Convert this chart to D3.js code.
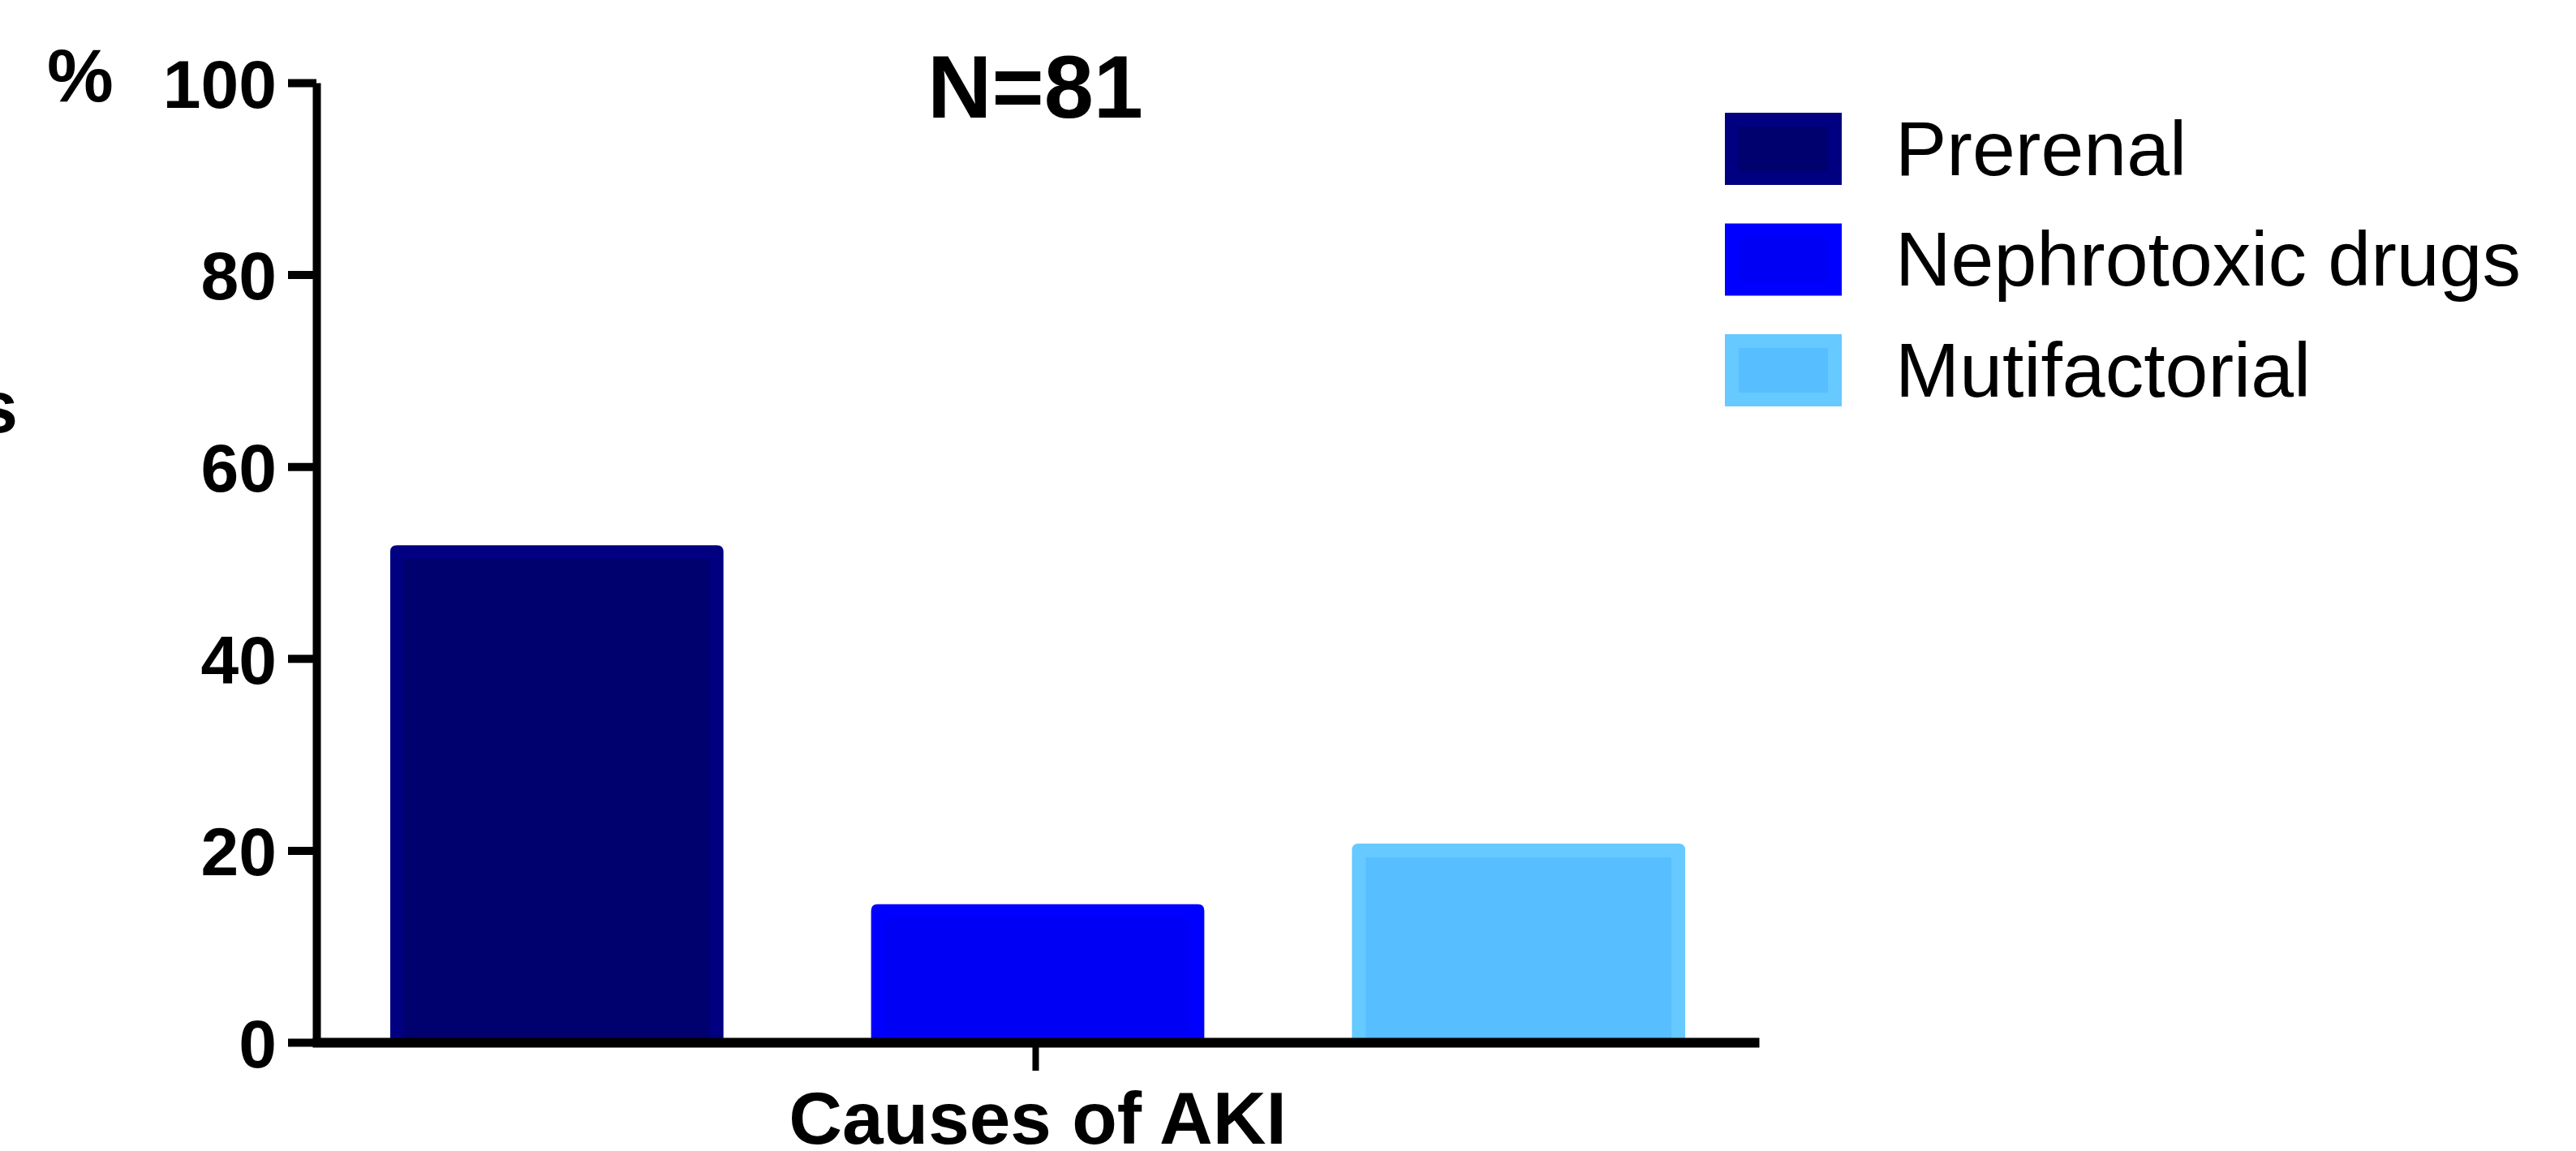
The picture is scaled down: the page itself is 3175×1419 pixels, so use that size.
<!DOCTYPE html>
<html>
<head>
<meta charset="utf-8">
<script src="https://cdn.jsdelivr.net/npm/d3@7"></script>
<style>
  body { margin: 0; background: #fff; }
  svg { display: block; }
</style>
</head>
<body>
<div id="chart"></div>
<script>
// data
const categories = ["Prerenal", "Nephrotoxic drugs", "Mutifactorial"];
const percents = [51.8, 14.4, 20.7];
const yTicks = [0, 20, 40, 60, 80, 100];
const groupLabel = "Causes of AKI";
const title = "N=81";

const fills = ["#00006e", "#0000f5", "#57bfff"];
const edges = ["#000080", "#0000ff", "#66c9ff"];

const W = 3175, H = 1419;
const font = "'Liberation Sans', Arial, sans-serif";

const svg = d3.select("#chart").append("svg")
  .attr("width", W)
  .attr("height", H)
  .style("font-family", font);

const x = d3.scaleBand()
  .domain(categories)
  .range([390, 2168])
  .paddingInner(0.307)
  .paddingOuter(0.1535);

const y = d3.scaleLinear()
  .domain([0, 100])
  .range([1285, 102]);

// bars: outer edge colour with an inset fill, slightly rounded on top
const inset = 17;
const bars = svg.append("g");
categories.forEach((c, i) => {
  const x0 = x(c), bw = x.bandwidth();
  const top = y(percents[i]), base = y(0);
  const r = 8;
  bars.append("path")
    .attr("d", `M${x0},${base}V${top + r}Q${x0},${top} ${x0 + r},${top}H${x0 + bw - r}Q${x0 + bw},${top} ${x0 + bw},${top + r}V${base}Z`)
    .attr("fill", edges[i]);
  bars.append("rect")
    .attr("x", x0 + inset)
    .attr("y", top + inset)
    .attr("width", bw - 2 * inset)
    .attr("height", Math.max(0, base - top - inset))
    .attr("fill", fills[i]);
});

// y axis
const yAxis = svg.append("g")
  .attr("transform", "translate(390,0)")
  .call(d3.axisLeft(y).tickValues(yTicks).tickSize(35).tickSizeOuter(0).tickPadding(14));
yAxis.select(".domain").attr("stroke", "#000").attr("stroke-width", 10);
yAxis.selectAll(".tick line").attr("stroke", "#000").attr("stroke-width", 10);
yAxis.selectAll(".tick text")
  .attr("font-family", font)
  .attr("font-size", 84)
  .attr("font-weight", "bold")
  .attr("fill", "#000")
  .attr("dy", "0.36em");

// x axis with a single centred tick
const xGroup = d3.scaleBand().domain([groupLabel]).range([385, 2168]);
const xAxis = svg.append("g")
  .attr("transform", `translate(0,${y(0)})`)
  .call(d3.axisBottom(xGroup).tickSize(35).tickSizeOuter(0).tickFormat(""));
xAxis.select(".domain").attr("stroke", "#000").attr("stroke-width", 12);
xAxis.selectAll(".tick line").attr("stroke", "#000").attr("stroke-width", 8);

svg.append("text")
  .attr("x", 1279)
  .attr("y", 1410)
  .attr("text-anchor", "middle")
  .attr("font-size", 91)
  .attr("font-weight", "bold")
  .text(groupLabel);

// title
svg.append("text")
  .attr("x", 1276)
  .attr("y", 145)
  .attr("text-anchor", "middle")
  .attr("font-size", 110)
  .attr("font-weight", "bold")
  .text(title);

// unit mark next to the top tick
svg.append("text")
  .attr("x", 58)
  .attr("y", 125)
  .attr("font-size", 92)
  .attr("font-weight", "bold")
  .text("%");

// clipped fragment of the original y title at the left edge
svg.append("clipPath").attr("id", "leftClip")
  .append("rect").attr("x", 0).attr("y", 0).attr("width", 20).attr("height", H);
svg.append("text")
  .attr("clip-path", "url(#leftClip)")
  .attr("x", -28)
  .attr("y", 533)
  .attr("font-size", 90)
  .attr("font-weight", "bold")
  .text("sc");

// legend
const legend = svg.append("g").attr("transform", "translate(2126,139)");
const sw = 144, sh = 89, step = 136.5;
categories.forEach((c, i) => {
  const g = legend.append("g").attr("transform", `translate(0,${i * step})`);
  g.append("rect").attr("width", sw).attr("height", sh).attr("fill", edges[i]);
  g.append("rect")
    .attr("x", inset).attr("y", inset)
    .attr("width", sw - 2 * inset).attr("height", sh - 2 * inset)
    .attr("fill", fills[i]);
  g.append("text")
    .attr("x", 210)
    .attr("y", sh / 2 + 32)
    .attr("font-size", 95)
    .attr("fill", "#000")
    .text(c);
});
</script>
</body>
</html>
